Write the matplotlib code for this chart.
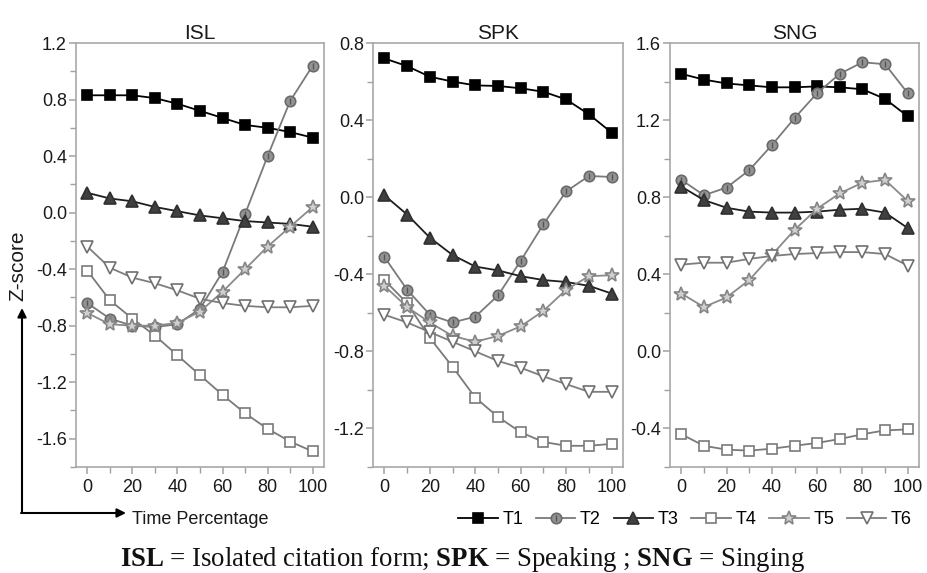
import matplotlib
matplotlib.use("Agg")
import matplotlib.pyplot as plt
from matplotlib.patches import FancyArrowPatch
from matplotlib.ticker import MultipleLocator
import numpy as np

plt.rcParams['font.family'] = ['Liberation Sans', 'DejaVu Sans']
plt.rcParams['mathtext.fontset'] = 'custom'
plt.rcParams['mathtext.rm'] = 'Liberation Serif'
plt.rcParams['mathtext.bf'] = 'Liberation Serif:bold'

time_pct = [0, 10, 20, 30, 40, 50, 60, 70, 80, 90, 100]
tones = ["T1", "T2", "T3", "T4", "T5", "T6"]
panels = ["ISL", "SPK", "SNG"]

# z-score per tone
isl = {
    "T1": [0.83, 0.83, 0.83, 0.81, 0.77, 0.72, 0.67, 0.62, 0.60, 0.57, 0.53],
    "T2": [-0.64, -0.75, -0.80, -0.81, -0.79, -0.68, -0.42, -0.01, 0.40, 0.79, 1.04],
    "T3": [0.14, 0.10, 0.08, 0.04, 0.01, -0.02, -0.04, -0.06, -0.07, -0.08, -0.10],
    "T4": [-0.41, -0.62, -0.75, -0.87, -1.01, -1.15, -1.29, -1.42, -1.53, -1.62, -1.69],
    "T5": [-0.71, -0.79, -0.80, -0.80, -0.78, -0.70, -0.56, -0.40, -0.24, -0.10, 0.04],
    "T6": [-0.24, -0.39, -0.46, -0.50, -0.55, -0.61, -0.64, -0.66, -0.67, -0.67, -0.66],
}
spk = {
    "T1": [0.72, 0.68, 0.625, 0.60, 0.58, 0.577, 0.565, 0.547, 0.507, 0.43, 0.335],
    "T2": [-0.31, -0.48, -0.61, -0.65, -0.62, -0.51, -0.33, -0.14, 0.03, 0.11, 0.105],
    "T3": [0.01, -0.09, -0.21, -0.30, -0.36, -0.38, -0.41, -0.43, -0.44, -0.46, -0.50],
    "T4": [-0.43, -0.55, -0.73, -0.88, -1.04, -1.14, -1.22, -1.27, -1.29, -1.29, -1.28],
    "T5": [-0.46, -0.57, -0.65, -0.72, -0.75, -0.72, -0.67, -0.59, -0.48, -0.41, -0.405],
    "T6": [-0.61, -0.65, -0.70, -0.75, -0.80, -0.85, -0.885, -0.93, -0.97, -1.01, -1.01],
}
sng = {
    "T1": [1.44, 1.41, 1.39, 1.38, 1.37, 1.37, 1.375, 1.37, 1.36, 1.31, 1.22],
    "T2": [0.89, 0.81, 0.85, 0.94, 1.07, 1.21, 1.34, 1.44, 1.50, 1.49, 1.34],
    "T3": [0.855, 0.785, 0.745, 0.725, 0.72, 0.72, 0.725, 0.735, 0.74, 0.72, 0.64],
    "T4": [-0.43, -0.49, -0.51, -0.515, -0.505, -0.49, -0.475, -0.455, -0.43, -0.41, -0.405],
    "T5": [0.30, 0.23, 0.28, 0.37, 0.50, 0.63, 0.74, 0.82, 0.875, 0.89, 0.78],
    "T6": [0.45, 0.46, 0.46, 0.48, 0.495, 0.505, 0.51, 0.515, 0.515, 0.505, 0.445],
}
all_data = [isl, spk, sng]
ylims = [(-1.8, 1.2), (-1.4, 0.8), (-0.6, 1.6)]

styles = {
    "T1": dict(color="#000000", marker="s", ms=6.8, mfc="#000000", mec="#000000"),
    "T2": dict(color="#7a7a7a", marker="o", ms=7.5, mfc="#939393", mec="#6a6a6a"),
    "T3": dict(color="#1e1e1e", marker="^", ms=8.5, mfc="#404040", mec="#303030"),
    "T4": dict(color="#7a7a7a", marker="s", ms=6.5, mfc="white", mec="#7a7a7a"),
    "T5": dict(color="#8a8a8a", marker="*", ms=10.5, mfc="#cfcfcf", mec="#858585"),
    "T6": dict(color="#7e7e7e", marker="v", ms=8.5, mfc="white", mec="#707070"),
}

fig = plt.figure(figsize=(9.27, 5.73), dpi=100)
lefts = [76, 373, 670]
rights = [324, 623, 919]
top_px, bot_px = 43, 467
W, H = 927.0, 573.0

handles = {}
for k in range(3):
    ax = fig.add_axes([lefts[k] / W, 1 - bot_px / H, (rights[k] - lefts[k]) / W, (bot_px - top_px) / H])
    d = all_data[k]
    for t in tones:
        st = styles[t]
        ln, = ax.plot(time_pct, d[t], lw=1.3, mew=1.2, **st)
        h = ln
        if t == "T2":
            bar, = ax.plot(time_pct, d[t], ls="none", marker="|", ms=5, mew=1.0, color="#555555")
            h = (ln, bar)
        handles[t] = h
    ax.set_xlim(-5, 105)
    ax.set_ylim(*ylims[k])
    ax.xaxis.set_major_locator(MultipleLocator(20))
    ax.xaxis.set_minor_locator(MultipleLocator(10))
    ax.yaxis.set_major_locator(MultipleLocator(0.4))
    ax.yaxis.set_minor_locator(MultipleLocator(0.2))
    ax.yaxis.set_major_formatter(matplotlib.ticker.FormatStrFormatter("%.1f"))
    for sp in ax.spines.values():
        sp.set_color("#a8a8a8")
        sp.set_linewidth(1.2)
    ax.tick_params(which="major", direction="out", length=5, width=1.1, color="#a0a0a0",
                   labelsize=13, labelcolor="#1a1a1a")
    ax.tick_params(which="minor", direction="out", length=4, width=1.0, color="#a0a0a0")
    ax.tick_params(axis="x", which="major", pad=4)
    ax.tick_params(axis="y", which="major", pad=1.5)
    ax.set_title(panels[k], fontsize=15, pad=3, color="#1a1a1a")

leg = fig.legend([handles[t] for t in tones], tones, loc="center",
                 bbox_to_anchor=(685 / W, 1 - 520 / H), ncol=6, frameon=False,
                 fontsize=13, handlelength=2.2, handletextpad=0.25, columnspacing=0.7,
                 borderpad=0, borderaxespad=0)

# axis arrows in the lower left corner
x0, y0 = 22 / W, 1 - 513 / H
fig.add_artist(FancyArrowPatch((x0, y0), (x0, 1 - 308 / H), transform=fig.transFigure,
                               arrowstyle="-|>", mutation_scale=13, lw=1.5, color="black",
                               shrinkA=0, shrinkB=0))
fig.add_artist(FancyArrowPatch((x0 - 0.001, y0), (126 / W, y0), transform=fig.transFigure,
                               arrowstyle="-|>", mutation_scale=13, lw=1.5, color="black",
                               shrinkA=0, shrinkB=0))
fig.text(132 / W, 1 - 520 / H, "Time Percentage", fontsize=13, ha="left", va="center", color="#1a1a1a")
fig.text(18 / W, 1 - 266 / H, "Z-score", fontsize=15, rotation=90, ha="center", va="center", color="#1a1a1a")

fig.text(463 / W, 1 - 566 / H,
         r"$\mathbf{ISL}$ = Isolated citation form; $\mathbf{SPK}$ = Speaking ; $\mathbf{SNG}$ = Singing",
         fontsize=19.3, family="Liberation Serif", ha="center", va="baseline", color="#111111")

fig.savefig("out.png", dpi=100)
